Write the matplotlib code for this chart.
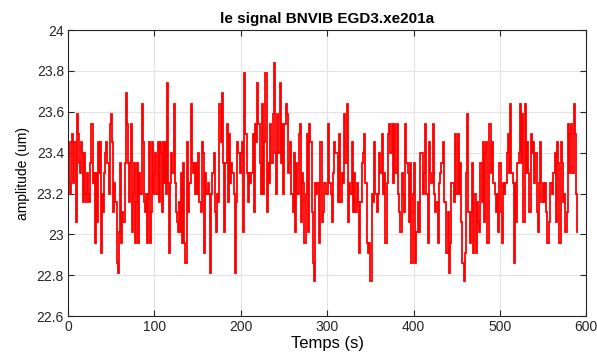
import numpy as np
import matplotlib
matplotlib.use('Agg')
import matplotlib.pyplot as plt
from matplotlib.ticker import FuncFormatter

# signal, in four pieces (values in um)
seg_1 = [23.45, 23.25, 23.2, 23.45, 23.49, 23.25, 23.45, 23.06, 23.59, 23.49, 23.35, 23.3, 23.45, 23.4,
         23.16, 23.4, 23.2, 23.16, 23.3, 23.2, 23.16, 23.35, 23.54, 23.25, 23.3, 22.96, 23.3, 23.06, 23.45,
         23.3, 23.45, 22.91, 23.2, 23.11, 23.3, 23.4, 23.45, 23.35, 23.2, 23.54, 23.59, 23.45, 23.11, 23.25,
         23.16, 23.16, 22.86, 22.81, 23.01, 23.35, 22.96, 23.11, 23.06, 23.35, 23.69, 23.54, 23.35, 23.16,
         23.35, 23.54, 23.01, 23.2, 23.35, 22.96, 23.16, 23.35, 22.96, 23.3, 23.2, 23.64, 23.45, 23.16, 23.11,
         23.2, 22.96, 23.2, 23.45, 22.96, 23.11, 23.45, 23.2, 23.3, 23.4, 23.2, 23.45, 23.16, 23.45, 23.4,
         23.11, 23.45, 23.25, 23.45, 23.2, 23.74, 23.25, 22.91, 23.25, 23.4, 23.3, 23.64, 23.25, 23.11, 23.06,
         23.01, 23.16, 23.01, 23.3, 22.96, 23.35, 22.96, 22.86, 22.86, 23.45, 23.11, 23.25, 23.64, 23.35,
         23.3, 23.35, 23.2]
seg_2 = [23.35, 23.2, 23.4, 23.16, 23.11, 23.45, 23.4, 22.91, 23.3, 23.2, 23.25, 23.2, 22.81, 23.2, 23.3,
         23.4, 23.11, 23.01, 23.2, 23.16, 23.64, 23.45, 23.69, 23.35, 23.01, 23.35, 23.54, 23.16, 23.49, 23.25,
         23.35, 23.3, 23.2, 22.81, 23.16, 23.45, 23.4, 23.3, 23.4, 23.45, 23.01, 23.79, 23.49, 23.3, 23.16,
         23.3, 23.25, 23.3, 23.49, 23.11, 23.54, 23.45, 23.74, 23.54, 23.35, 23.2, 23.64, 23.2, 23.45, 23.79,
         23.11, 23.35, 23.25, 23.54, 23.35, 23.59, 23.84, 23.4, 23.2, 23.59, 23.4, 23.74, 23.35, 23.54, 23.2,
         23.54, 23.64, 23.59, 23.3, 23.35, 23.45, 23.2, 23.11, 23.4, 23.01, 23.35, 23.2, 23.49, 23.54, 23.06,
         23.3, 23.25, 22.96, 23.2, 23.49, 23.01, 23.54, 23.45, 23.11, 22.86, 22.77, 23.25, 23.2, 23.25, 22.96,
         23.45, 23.45, 23.06, 23.11, 23.25, 23.2, 23.2]
seg_3 = [23.54, 23.25, 23.2, 23.06, 23.3, 23.45, 23.4, 23.4, 23.16, 23.49, 23.16, 23.3, 23.25, 23.59, 23.35,
         23.64, 23.06, 23.25, 23.2, 23.45, 23.11, 23.3, 23.11, 23.25, 23.16, 22.91, 23.16, 23.35, 23.4, 23.49,
         23.25, 22.96, 22.91, 22.96, 22.77, 23.2, 23.16, 23.45, 23.2, 23.11, 23.2, 23.4, 23.3, 23.49, 23.2,
         23.3, 22.96, 23.25, 23.49, 23.54, 23.4, 23.54, 23.25, 23.54, 23.3, 23.54, 23.2, 23.11, 23.01, 23.3,
         23.2, 23.11, 23.54, 23.35, 23.3, 23.06, 23.35, 22.86, 23.2, 23.35, 22.86, 23.01, 23.16, 23.01, 23.4,
         23.4, 23.2, 23.3, 23.54, 23.2, 22.96, 23.45, 23.3, 23.25, 23.54, 23.2, 23.11, 23.16, 22.96, 23.25,
         23.3, 23.35, 23.45, 23.16, 23.16, 22.91, 23.11, 22.81, 22.96, 23.25, 23.25, 23.16, 23.49, 23.2]
seg_4 = [23.49, 23.2, 23.35, 23.06, 22.86, 22.77, 22.91, 23.3, 23.59, 23.11, 22.96, 23.11, 23.35, 22.91,
         23.2, 22.91, 23.16, 23.06, 23.01, 23.35, 23.16, 23.45, 23.06, 23.4, 23.45, 22.96, 23.54, 23.54, 23.3,
         23.45, 23.25, 23.2, 23.11, 23.2, 23.01, 23.35, 23.11, 22.96, 23.25, 23.2, 23.25, 23.4, 23.49, 23.3,
         23.64, 23.3, 23.25, 22.86, 23.25, 23.06, 23.35, 23.4, 23.64, 23.35, 23.59, 23.06, 23.64, 23.3, 23.45,
         23.3, 23.11, 23.49, 23.4, 23.45, 23.25, 23.4, 23.11, 23.01, 23.25, 23.45, 23.16, 23.25, 23.16, 23.25,
         23.11, 22.96, 23.06, 23.25, 23.25, 23.2, 23.3, 23.4, 23.06, 23.45, 23.35, 22.96, 23.45, 23.35, 23.16,
         23.2, 23.01, 23.11, 23.54, 23.3, 23.49, 23.54, 23.3, 23.64, 23.49, 23.2, 23.01]
seg_bounds = [0, 148, 301, 451, 591]  # time (s) covered by each piece

plt.rcParams['font.family'] = ['Liberation Sans', 'DejaVu Sans']

values = []
edges = []
for k, seg in enumerate([seg_1, seg_2, seg_3, seg_4]):
    e = np.linspace(seg_bounds[k], seg_bounds[k + 1], len(seg) + 1)
    edges.extend(e[:-1] if k < 3 else e)
    values.extend(seg)
values = np.array(values)
edges = np.array(edges)

fig = plt.figure(figsize=(5.97, 3.54), dpi=100)
ax = fig.add_axes([0.114, 0.107, 0.868, 0.808])

ax.stairs(values, edges, color='#ff0000', linewidth=1.3, baseline=None)

ax.set_xlim(0, 600)
ax.set_ylim(22.6, 24)
ax.set_xticks(np.arange(0, 601, 100))
ax.set_yticks(np.arange(22.6, 24.01, 0.2))
ax.yaxis.set_major_formatter(FuncFormatter(lambda v, p: '%g' % round(v, 1)))

ax.grid(True, color='#e3e3e3', linewidth=0.8)
ax.set_axisbelow(True)
for s in ax.spines.values():
    s.set_color('#262626')
    s.set_linewidth(0.8)
ax.tick_params(direction='in', top=True, right=True, length=4, width=0.8,
               colors='#262626', labelsize=10, pad=3)

ax.set_title('le signal BNVIB EGD3.xe201a', fontsize=11, fontweight='bold', pad=5)
ax.set_xlabel('Temps (s)', fontsize=12, labelpad=1)
ax.set_ylabel('amplitude (um)', fontsize=10, labelpad=5)

fig.savefig('out.png', dpi=100)
